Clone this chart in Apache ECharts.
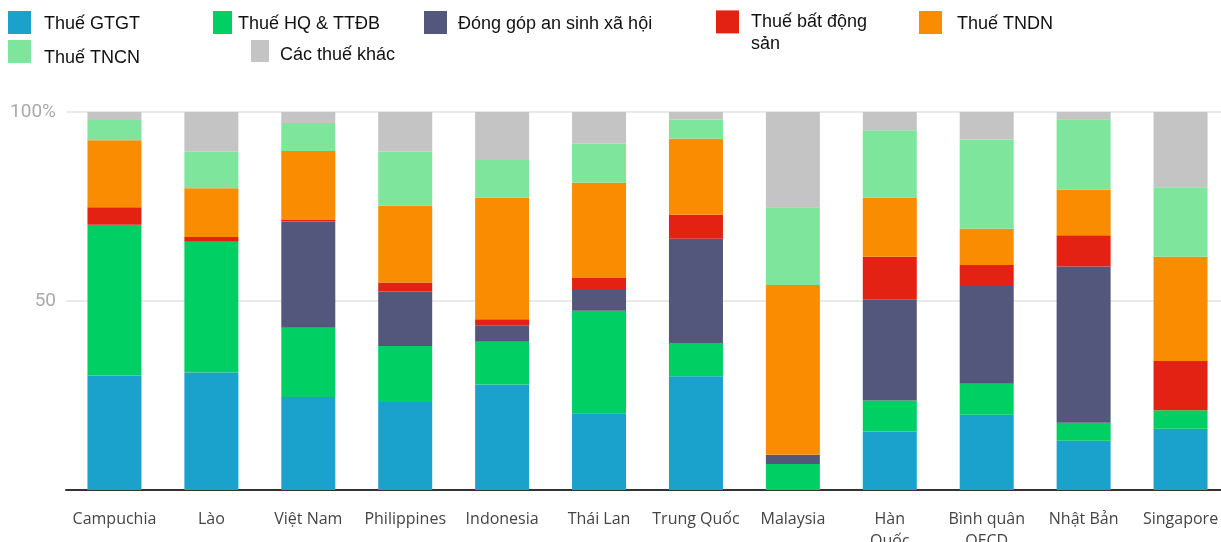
<!DOCTYPE html>
<html>
<head>
<meta charset="utf-8">
<script src="https://cdn.jsdelivr.net/npm/echarts@6/dist/echarts.min.js"></script>
<style>
  html, body { margin: 0; padding: 0; background: #fff; }
  #chart { width: 1221px; height: 542px; }
</style>
</head>
<body>
<div id="chart"></div>
<script>
// Countries / groups along the x axis
const categories = ['Campuchia', 'Lào', 'Việt Nam', 'Philippines', 'Indonesia', 'Thái Lan',
  'Trung Quốc', 'Malaysia', 'Hàn Quốc', 'Bình quân OECD', 'Nhật Bản', 'Singapore'];
// Axis labels as they are printed (two-line where wrapped)
const tickLabels = ['Campuchia', 'Lào', 'Việt Nam', 'Philippines', 'Indonesia', 'Thái Lan',
  'Trung Quốc', 'Malaysia', 'Hàn\nQuốc', 'Bình quân\nOECD', 'Nhật Bản', 'Singapore'];

// Share of total tax revenue (%), by source
const vat        = [30.3, 31.1, 24.6, 23.3, 27.9, 20.3, 30.1, 0,    15.5, 19.9, 13.0, 16.2];
const customs    = [39.9, 34.6, 18.3, 14.8, 11.3, 27.1,  8.8, 6.9,   8.2,  8.2,  4.8,  4.9];
const social     = [0,    0,    28.1, 14.4,  4.4,  5.8, 27.6, 2.4,  26.6, 25.9, 41.3,  0];
const property   = [4.6,  1.2,   0.4,  2.4,  1.6,  2.9,  6.3, 0,    11.4,  5.5,  8.3, 13.0];
const corporate  = [17.7, 12.9, 18.3, 20.3, 32.2, 25.2, 20.1, 44.9, 15.7,  9.6, 12.0, 27.6];
const personal   = [5.4,  9.7,   7.4, 14.3,  9.9, 10.3,  5.1, 20.6, 17.8, 23.6, 18.7, 18.4];
const otherTaxes = [2.1, 10.5,   2.9, 10.5, 12.7,  8.4,  2.0, 25.2,  4.8,  7.3,  1.9, 19.9];

// Y axis tick labels
const yTickLabels = { 0: '', 50: '50', 100: '100%' };

const seriesDefs = [
  { name: 'Thuế GTGT',          data: vat,        color: '#1aa1cc' },
  { name: 'Thuế HQ & TTĐB',     data: customs,    color: '#00cf63' },
  { name: 'Đóng góp an sinh xã hội', data: social, color: '#54577c' },
  { name: 'Thuế bất động sản',  data: property,   color: '#e32213' },
  { name: 'Thuế TNDN',          data: corporate,  color: '#f98c00' },
  { name: 'Thuế TNCN',          data: personal,   color: '#7de69c' },
  { name: 'Các thuế khác',      data: otherTaxes, color: '#c4c4c4' }
];

const legendFont = '"Liberation Sans", Arial, sans-serif';

// One legend block per entry, laid out in two loose rows.
// dropPx pushes the caption below the swatch centre, gapPx spaces it from the swatch.
function legendItem(name, left, top, w, h, dropPx, gapPx, label) {
  return {
    data: [name],
    left: left,
    top: top,
    padding: 0,
    icon: 'rect',
    itemWidth: w,
    itemHeight: h,
    selectedMode: false,
    formatter: function () { return '{t|' + (label || name) + '}'; },
    textStyle: {
      fontFamily: legendFont,
      fontSize: 18,
      color: '#111',
      rich: {
        t: {
          fontFamily: legendFont,
          fontSize: 18,
          color: '#111',
          lineHeight: 22,
          padding: [dropPx, 0, 0, gapPx]
        }
      }
    }
  };
}

const propertyLegend = {
  data: ['Thuế bất động sản'],
  left: 716,
  top: -12,
  padding: 0,
  icon: 'rect',
  itemWidth: 23,
  itemHeight: 23,
  selectedMode: false,
  formatter: function () { return '\nThuế bất động\nsản'; },
  textStyle: {
    fontFamily: legendFont,
    fontSize: 18,
    color: '#111',
    lineHeight: 22.6,
    padding: [0, 0, 0, 7]
  }
};

const legends = [
  legendItem('Thuế GTGT', 8, 11, 23, 23, 3, 8),
  legendItem('Thuế HQ & TTĐB', 213, 11, 19, 23, 3, 1),
  legendItem('Đóng góp an sinh xã hội', 424, 11, 23, 23, 3, 6),
  propertyLegend,
  legendItem('Thuế TNDN', 919, 11, 23, 23, 3, 10),
  legendItem('Thuế TNCN', 8, 36, 23, 23, 13, 8),
  legendItem('Các thuế khác', 251, 37.5, 18, 22, 9, 6)
];

const chart = echarts.init(document.getElementById('chart'), null, { renderer: 'canvas' });

chart.setOption({
  animation: false,
  backgroundColor: '#fff',
  legend: legends,
  grid: { left: 66, right: -8, top: 112, bottom: 52, outerBoundsMode: 'none', containLabel: false },
  xAxis: {
    type: 'category',
    data: categories,
    axisLine: { lineStyle: { color: '#333', width: 2 } },
    axisTick: { alignWithLabel: true, length: 8, lineStyle: { color: '#333', width: 2 } },
    axisLabel: {
      interval: 0,
      margin: 18,
      fontFamily: '"Open Sans", sans-serif',
      fontSize: 16,
      lineHeight: 22,
      color: '#444',
      formatter: function (v, i) { return tickLabels[i]; }
    }
  },
  yAxis: {
    type: 'value',
    min: 0,
    max: 100,
    interval: 50,
    axisLine: { show: false },
    axisTick: { show: false },
    axisLabel: {
      margin: 10,
      fontFamily: 'Roboto, sans-serif',
      fontSize: 19,
      color: '#aaa',
      formatter: function (v) { return yTickLabels[v]; }
    },
    splitLine: { lineStyle: { color: '#e3e3e3', width: 1.5 } }
  },
  series: seriesDefs.map(function (s) {
    return {
      name: s.name,
      type: 'bar',
      stack: 'total',
      barWidth: 54,
      data: s.data,
      itemStyle: { color: s.color },
      emphasis: { disabled: true }
    };
  })
});
</script>
</body>
</html>
